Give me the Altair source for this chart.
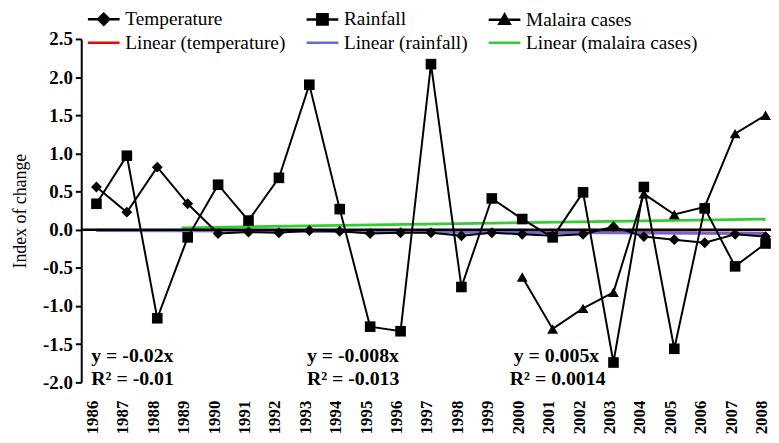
import altair as alt
import pandas as pd

# ---------------- data ----------------
years = list(range(1986, 2009))
temperature = [0.56, 0.23, 0.82, 0.34, -0.05, -0.03, -0.04, -0.01, -0.02, -0.05, -0.04,
               -0.04, -0.08, -0.04, -0.06, -0.08, -0.06, 0.04, -0.09, -0.13, -0.17, -0.06, -0.09]
rainfall = [0.34, 0.97, -1.16, -0.10, 0.59, 0.12, 0.68, 1.90, 0.27, -1.27, -1.33, 2.17,
            -0.75, 0.41, 0.14, -0.10, 0.49, -1.74, 0.56, -1.56, 0.28, -0.48, -0.18]
malaria_years = list(range(2000, 2009))
malaria = [-0.62, -1.30, -1.03, -0.82, 0.47, 0.20, 0.30, 1.26, 1.50]

# trend lines (start / end)
trend_names = ["Linear (temperature)", "Linear (rainfall)", "Linear (malaira cases)"]
trend_colors = ["#ff0000", "#6a6ad0", "#33cc33"]
trend_x0 = [1986, 1986, 1988.8]
trend_x1 = [2008, 2008, 2008]
trend_y0 = [-0.005, -0.01, 0.025]
trend_y1 = [-0.045, -0.05, 0.14]

# equations
ann_text = ["y = -0.02x", "R\u00b2 = -0.01", "y = -0.008x", "R\u00b2 = -0.013",
            "y = 0.005x", "R\u00b2 = 0.0014"]
ann_x = [1985.83, 1985.83, 1992.92, 1992.92, 1999.72, 1999.59]
ann_y = [-1.73, -2.03, -1.73, -2.03, -1.73, -2.03]

y_ticks = [-2.0, -1.5, -1.0, -0.5, 0.0, 0.5, 1.0, 1.5, 2.0, 2.5]

legend_names = ["Temperature", "Rainfall", "Malaira cases",
                "Linear (temperature)", "Linear (rainfall)", "Linear (malaira cases)"]
legend_colors = ["black", "black", "black", "#ff0000", "#6a6ad0", "#33cc33"]
legend_shapes = [
    "M-2,0H2M-0.7,0L0,-0.7L0.7,0L0,0.7Z",
    "M-2,0H2M-0.65,-0.65H0.65V0.65H-0.65Z",
    "M-2,0H2M-0.65,0.5L0,-0.65L0.65,0.5Z",
    "M-2,0H2",
    "M-2,0H2",
    "M-2,0H2",
]

FONT = "'Liberation Serif', 'Times New Roman', 'DejaVu Serif', serif"

# ---------------- shared encodings ----------------
X = alt.X(
    "year:Q",
    scale=alt.Scale(domain=[1985.5, 2008.18], nice=False, zero=False),
    axis=alt.Axis(
        values=years, format="d", labelAngle=-90, labelFont=FONT, labelFontSize=17,
        labelFontWeight="bold", labelColor="black", domain=False, ticks=False,
        grid=False, labelPadding=18, labelFlush=False, labelOverlap=False,
        labelOffset=-4, title=None,
    ),
)
Y = alt.Y(
    "value:Q",
    scale=alt.Scale(domain=[-2.0, 2.5], nice=False, zero=False),
    axis=alt.Axis(
        values=y_ticks,
        labelExpr="datum.value < 0 ? '-' + format(abs(datum.value), '.1f') : format(datum.value, '.1f')",
        title="Index of change", titleFont=FONT, titleFontSize=18, titleFontWeight="normal",
        titleColor="black", titlePadding=13,
        labelFont=FONT, labelFontSize=19, labelFontWeight="bold", labelColor="black",
        domainColor="black", domainWidth=2, tickColor="black", tickWidth=2, tickSize=6,
        labelPadding=3, grid=False,
    ),
)

layers = []

# trend lines
for name, col, x0, x1, y0, y1 in zip(trend_names, trend_colors, trend_x0, trend_x1, trend_y0, trend_y1):
    df = pd.DataFrame({"year": [x0, x1], "value": [y0, y1]})
    layers.append(alt.Chart(df).mark_line(color=col, strokeWidth=2.8).encode(x=X, y=Y))

# zero line
zero_df = pd.DataFrame({"value": [0.0]})
layers.append(alt.Chart(zero_df).mark_rule(color="black", strokeWidth=2.5).encode(y=Y))

# data series
series = [
    (years, temperature, "diamond", 121),
    (years, rainfall, "square", 115),
    (malaria_years, malaria, "triangle-up", 120),
]
for xs, vs, shp, sz in series:
    df = pd.DataFrame({"year": xs, "value": vs})
    base = alt.Chart(df)
    layers.append(base.mark_line(color="black", strokeWidth=2).encode(x=X, y=Y))
    layers.append(base.mark_point(filled=True, shape=shp, size=sz, color="black", opacity=1).encode(x=X, y=Y))

# equations
ann_df = pd.DataFrame({"year": ann_x, "value": ann_y, "text": ann_text})
layers.append(
    alt.Chart(ann_df).mark_text(align="left", baseline="alphabetic", font=FONT, fontSize=20,
                                fontWeight="bold", color="black")
    .encode(x=X, y=Y, text="text:N")
)

# legend (driven by scale domains only)
LEG = alt.Legend(
    title=None, orient="none", legendX=13, legendY=-30, direction="horizontal", columns=3,
    columnPadding=15, rowPadding=2, symbolSize=256, symbolStrokeWidth=2.5,
    labelFont=FONT, labelFontSize=19.5, labelColor="black", labelOffset=12, labelLimit=400,
    padding=0, symbolOpacity=1,
)
leg_df = pd.DataFrame({"series": legend_names, "year": [2000] * 6, "value": [0.0] * 6})
layers.append(
    alt.Chart(leg_df).transform_filter("datum.series == 'none'")
    .mark_point(filled=True, opacity=1)
    .encode(
        x=X, y=Y,
        shape=alt.Shape("series:N", scale=alt.Scale(domain=legend_names, range=legend_shapes), legend=LEG),
        fill=alt.Fill("series:N", scale=alt.Scale(domain=legend_names, range=legend_colors), legend=LEG),
        stroke=alt.Stroke("series:N", scale=alt.Scale(domain=legend_names, range=legend_colors), legend=LEG),
    )
)

chart = (
    alt.layer(*layers)
    .properties(
        width=697, height=347,
        autosize=alt.AutoSizeParams(type="none"),
        padding={"left": 74, "top": 29, "right": 0, "bottom": 59},
        background="white",
    )
    .configure_view(stroke=None)
)

chart.save("out.html", embed_options={"renderer": "svg", "actions": False})
